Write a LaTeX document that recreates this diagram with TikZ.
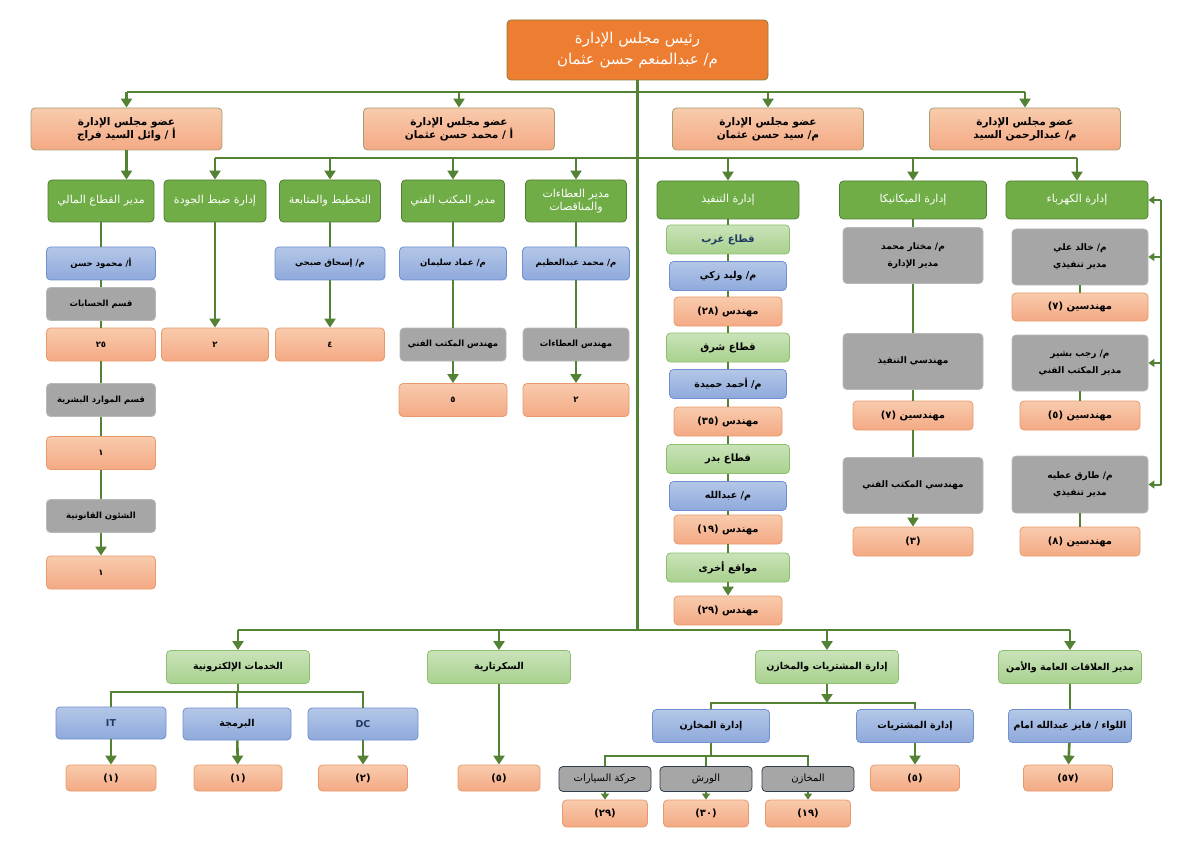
\documentclass[tikz,border=0pt]{standalone}
\usepackage{fontspec}
\setmainfont{DejaVu Sans}
\newfontfamily\arabicfont[Script=Arabic]{DejaVu Sans}
\TeXXeTstate=1
\newcommand\artxt[1]{\beginR #1\endR}
\usetikzlibrary{arrows.meta}
\definecolor{ink}{HTML}{000000}
\definecolor{navy}{HTML}{1F3864}
\definecolor{lnk}{HTML}{548235}
\definecolor{orng}{HTML}{ED7D31}
\definecolor{orngD}{HTML}{8A7A3A}
\definecolor{hgreen}{HTML}{70AD47}
\definecolor{hgreenD}{HTML}{507E32}
\definecolor{lgA}{HTML}{C9E3B9}
\definecolor{lgB}{HTML}{A9D18E}
\definecolor{lgD}{HTML}{8DBF6F}
\definecolor{blA}{HTML}{B4C7E7}
\definecolor{blB}{HTML}{8EA9DB}
\definecolor{blD}{HTML}{6F8FCF}
\definecolor{saA}{HTML}{F8CBAD}
\definecolor{saB}{HTML}{F4A984}
\definecolor{saD}{HTML}{E99A6C}
\definecolor{brdD}{HTML}{A59F74}
\definecolor{gryF}{HTML}{A6A6A6}
\definecolor{gryD}{HTML}{B8B8B8}
\definecolor{gryN}{HTML}{333F50}

\begin{document}
\begin{tikzpicture}[x=1pt,y=-1pt,font=\arabicfont,text=ink,
  >={Triangle[width=11pt,length=9pt]},
  box/.style={rounded corners=4pt,align=center,inner sep=1pt,line width=.8pt,
    font=\arabicfont\bfseries\fontsize{8.5}{10}\selectfont},
  topbox/.style={box,fill=orng,draw=orngD,text=white,minimum width=261,minimum height=60,
    font=\arabicfont\fontsize{15}{18}\selectfont},
  brd/.style={box,top color=saA,bottom color=saB,draw=brdD,minimum width=191,minimum height=42,
    font=\arabicfont\bfseries\fontsize{10.5}{13}\selectfont},
  hdr/.style={box,fill=hgreen,draw=hgreenD,text=white,minimum height=42,
    font=\arabicfont\fontsize{11}{13}\selectfont},
  lgrn/.style={box,top color=lgA,bottom color=lgB,draw=lgD,minimum width=123,minimum height=29,
    font=\arabicfont\bfseries\fontsize{9.5}{11}\selectfont},
  lgsec/.style={lgrn,font=\arabicfont\bfseries\fontsize{10}{12}\selectfont},
  blu/.style={box,top color=blA,bottom color=blB,draw=blD,minimum width=117,minimum height=29},
  blub/.style={blu,font=\arabicfont\bfseries\fontsize{9.5}{11}\selectfont},
  gry/.style={box,fill=gryF,draw=gryD,minimum width=108,minimum height=32},
  gryb/.style={gry,minimum width=140,minimum height=56,font=\arabicfont\bfseries\fontsize{9}{11}\selectfont},
  dgry/.style={box,fill=gryF,draw=gryN,minimum width=92,minimum height=25,
    font=\arabicfont\fontsize{10}{11}\selectfont},
  salm/.style={box,top color=saA,bottom color=saB,draw=saD,minimum width=108,minimum height=29},
  salmb/.style={salm,font=\arabicfont\bfseries\fontsize{10}{11}\selectfont},
  link/.style={draw=lnk,line width=2.6pt},
  arr/.style={link,->},
  arrs/.style={draw=lnk,line width=2pt,-{Triangle[width=8pt,length=6pt]}}]
  \useasboundingbox (0,0) rectangle (1191,842);

  \node[topbox] (top) at (637.5,50)
    {\artxt{رئيس مجلس الإدارة}\\[3pt]\artxt{م/ عبدالمنعم حسن عثمان}};
  \foreach \n/\x/\t in {b1/126.5/{أ / وائل السيد فراج},b2/459/{أ / محمد حسن عثمان},
      b3/768/{م/ سيد حسن عثمان},b4/1025/{م/ عبدالرحمن السيد}}
    \node[brd] (\n) at (\x,129) {\artxt{عضو مجلس الإدارة}\\\artxt{\t}};

  \foreach \n/\x/\w/\t in {fin/101/106/{مدير القطاع المالي},qc/215/102/{إدارة ضبط الجودة},
      plan/330/101/{التخطيط والمتابعة},tech/453/103/{مدير المكتب الفني}}
    \node[hdr,minimum width=\w] (\n) at (\x,201) {\artxt{\t}};
  \node[hdr,minimum width=101] (tend) at (576,201)
    {\artxt{مدير العطاءات}\\\artxt{والمناقصات}};
  \foreach \n/\x/\w/\t in {exe/728/142/{إدارة التنفيذ},mech/913/147/{إدارة الميكانيكا},
      ele/1077/142/{إدارة الكهرباء}}
    \node[hdr,minimum width=\w,minimum height=38] (\n) at (\x,200) {\artxt{\t}};

  \coordinate (busA) at (0,92);
  \coordinate (busB) at (0,158);
  \coordinate (busC) at (0,630);
  \coordinate (rail) at (1161,0);
  \draw[link] (top.south) -- (top.south |- busC);
  \draw[link] (b1.north |- busA) -- (b4.north |- busA);
  \foreach \b in {b1,b2,b3,b4}
    \draw[arr] (\b.north |- busA) -- (\b.north);
  \draw[arr] (b1.south) -- (b1.south |- fin.north);
  \draw[link] (qc.north |- busB) -- (ele.north |- busB);
  \foreach \b in {qc,plan,tech,tend,exe,mech,ele}
    \draw[arr] (\b.north |- busB) -- (\b.north);

  \foreach \n/\y/\s/\t in {fname/263.5/blu/{\artxt{أ/ محمود حسن}},acc/304/gry/{\artxt{قسم الحسابات}},
      f25/344.5/salm/{٢٥},hr/400/gry/{\artxt{قسم الموارد البشرية}},fa/453/salm/{١},
      leg/516/gry/{\artxt{الشئون القانونية}},fb/572.5/salm/{١}}
    \node[\s,minimum width=109,minimum height=33] (\n) at (101,\y) {\t};
  \foreach \a/\b in {fin/fname,fname/acc,acc/f25,f25/hr,hr/fa,fa/leg}
    \draw[link] (\a) -- (\b);
  \draw[arr] (leg) -- (fb);

  \node[salm,minimum width=107,minimum height=33] (q2) at (215,344.5) {٢};
  \draw[arr] (qc) -- (q2);
  \node[blu,minimum width=110,minimum height=33] (pname) at (330,263.5) {\artxt{م/ إسحاق صبحي}};
  \node[salm,minimum width=109,minimum height=33] (p4) at (330,344.5) {٤};
  \draw[link] (plan) -- (pname);
  \draw[arr] (pname) -- (p4);

  \foreach \c/\x/\nm/\en in {t/453/{م/ عماد سليمان}/{مهندس المكتب الفني},
      d/576/{م/ محمد عبدالعظيم}/{مهندس العطاءات}}{
    \node[blu,minimum width=107,minimum height=33] (\c name) at (\x,263.5) {\artxt{\nm}};
    \node[gry,minimum width=106,minimum height=33] (\c eng) at (\x,344.5) {\artxt{\en}};
  }
  \node[salm,minimum width=108,minimum height=33] (t5) at (453,400) {٥};
  \node[salm,minimum width=106,minimum height=33] (d2) at (576,400) {٢};
  \draw[link] (tech) -- (tname);
  \draw[link] (tname) -- (teng);
  \draw[arr] (teng) -- (t5);
  \draw[link] (tend) -- (dname);
  \draw[link] (dname) -- (deng);
  \draw[arr] (deng) -- (d2);

  \foreach \n/\y/\s/\t in {west/239.5/lgsec/{\textcolor{navy}{\artxt{قطاع غرب}}},wname/276/blub/{\artxt{م/ وليد زكي}},
      w28/311.5/salmb/{(٢٨) \artxt{مهندس}},east/347.5/lgsec/{\artxt{قطاع شرق}},
      ename/384/blub/{\artxt{م/ أحمد حميدة}},e35/421.5/salmb/{(٣٥) \artxt{مهندس}},
      badr/459/lgsec/{\artxt{قطاع بدر}},bname/496/blub/{\artxt{م/ عبدالله}},
      b19/529.5/salmb/{(١٩) \artxt{مهندس}},oth/567.5/lgsec/{\artxt{مواقع أخرى}},
      o29/610.5/salmb/{(٢٩) \artxt{مهندس}}}
    \node[\s] (\n) at (728,\y) {\t};
  \foreach \a/\b in {exe/west,west/wname,wname/w28,w28/east,east/ename,ename/e35,
      e35/badr,badr/bname,bname/b19,b19/oth}
    \draw[link] (\a) -- (\b);
  \draw[arr] (oth) -- (o29);

  \node[gryb] (mname) at (913,255.5) {\artxt{م/ مختار محمد}\\[6pt]\artxt{مدير الإدارة}};
  \node[gryb] (meng) at (913,361.5) {\artxt{مهندسي التنفيذ}};
  \node[salmb,minimum width=120] (m7) at (913,415.5) {(٧) \artxt{مهندسين}};
  \node[gryb] (moff) at (913,485.5) {\artxt{مهندسي المكتب الفني}};
  \node[salmb,minimum width=120] (m3) at (913,541.5) {(٣)};
  \foreach \a/\b in {mech/mname,mname/meng,meng/m7,m7/moff}
    \draw[link] (\a) -- (\b);
  \draw[arr] (moff) -- (m3);

  \node[gryb,minimum width=136] (kname) at (1080,257) {\artxt{م/ خالد علي}\\[6pt]\artxt{مدير تنفيذي}};
  \node[salmb,minimum width=136,minimum height=28] (k7) at (1080,307) {(٧) \artxt{مهندسين}};
  \node[gryb,minimum width=136] (rname) at (1080,363) {\artxt{م/ رجب بشير}\\[6pt]\artxt{مدير المكتب الفني}};
  \node[salmb,minimum width=120] (r5) at (1080,415.5) {(٥) \artxt{مهندسين}};
  \node[gryb,minimum width=136,minimum height=57] (trname) at (1080,484.5) {\artxt{م/ طارق عطيه}\\[6pt]\artxt{مدير تنفيذي}};
  \node[salmb,minimum width=120] (t8) at (1080,541.5) {(٨) \artxt{مهندسين}};
  \draw[link] (kname) -- (k7);
  \draw[link] (rname) -- (r5);
  \draw[link] (trname) -- (t8);
  \draw[draw=lnk,line width=2pt] (rail |- ele.east) -- (rail |- trname.east);
  \foreach \b in {ele,kname,rname,trname}
    \draw[arrs] (rail |- \b.east) -- (\b.east);

  \foreach \n/\x/\t in {esv/238/{الخدمات الإلكترونية},sec/499/{السكرتارية},
      pur/827/{إدارة المشتريات والمخازن},pr/1070/{مدير العلاقات العامة والأمن}}
    \node[lgrn,minimum width=143,minimum height=33] (\n) at (\x,667) {\artxt{\t}};
  \draw[link] (esv.north |- busC) -- (pr.north |- busC);
  \foreach \b in {esv,sec,pur,pr}
    \draw[arr] (\b.north |- busC) -- (\b.north);

  \node[blub,minimum width=110,minimum height=32,text=navy] (it) at (111,723) {IT};
  \node[blub,minimum width=108,minimum height=32] (prog) at (237,724) {\artxt{البرمجة}};
  \node[blub,minimum width=110,minimum height=32,text=navy] (dc) at (363,724) {DC};
  \coordinate (esb) at (0,692);
  \draw[link] (esv) -- (esv |- esb);
  \draw[link] (it.north) -- (it.north |- esb) -- (dc.north |- esb) -- (dc.north);
  \draw[link] (prog.north |- esb) -- (prog.north);
  \foreach \n/\x/\w/\t/\p in {i1/111/90/(١)/it,g1/238/88/(١)/prog,d2b/363/89/(٢)/dc,s5/499/82/(٥)/sec}{
    \node[salmb,minimum width=\w,minimum height=26] (\n) at (\x,778) {\t};
    \draw[arr] (\p) -- (\n);
  }

  \node[blub,minimum width=117,minimum height=33] (store) at (711,726) {\artxt{إدارة المخازن}};
  \node[blub,minimum width=117,minimum height=33] (purch) at (915,726) {\artxt{إدارة المشتريات}};
  \node[salmb,minimum width=89,minimum height=26] (pu5) at (915,778) {(٥)};
  \coordinate (pb) at (0,703);
  \coordinate (sb) at (0,756);
  \draw[arr] (pur) -- (pur |- pb);
  \draw[link] (store.north) -- (store.north |- pb) -- (purch.north |- pb) -- (purch.north);
  \draw[arr] (purch) -- (pu5);
  \foreach \n/\x/\t/\s/\c in {cars/605/{حركة السيارات}/c29/(٢٩),shop/706/{الورش}/s30/(٣٠),
      stor/808/{المخازن}/s19/(١٩)}{
    \node[dgry] (\n) at (\x,779) {\artxt{\t}};
    \node[salmb,minimum width=85,minimum height=27] (\s) at (\x,813.5) {\c};
    \draw[arrs] (\n) -- (\s);
  }
  \draw[link] (store) -- (store |- sb);
  \draw[link] (cars.north) -- (cars.north |- sb) -- (stor.north |- sb) -- (stor.north);
  \draw[link] (shop.north |- sb) -- (shop.north);

  \node[blub,minimum width=123,minimum height=33] (fay) at (1070,726) {\artxt{اللواء / فايز عبدالله امام}};
  \node[salmb,minimum width=89,minimum height=26] (p57) at (1068,778) {(٥٧)};
  \draw[link] (pr) -- (fay);
  \draw[arr] (fay) -- (p57);
\end{tikzpicture}
\end{document}
